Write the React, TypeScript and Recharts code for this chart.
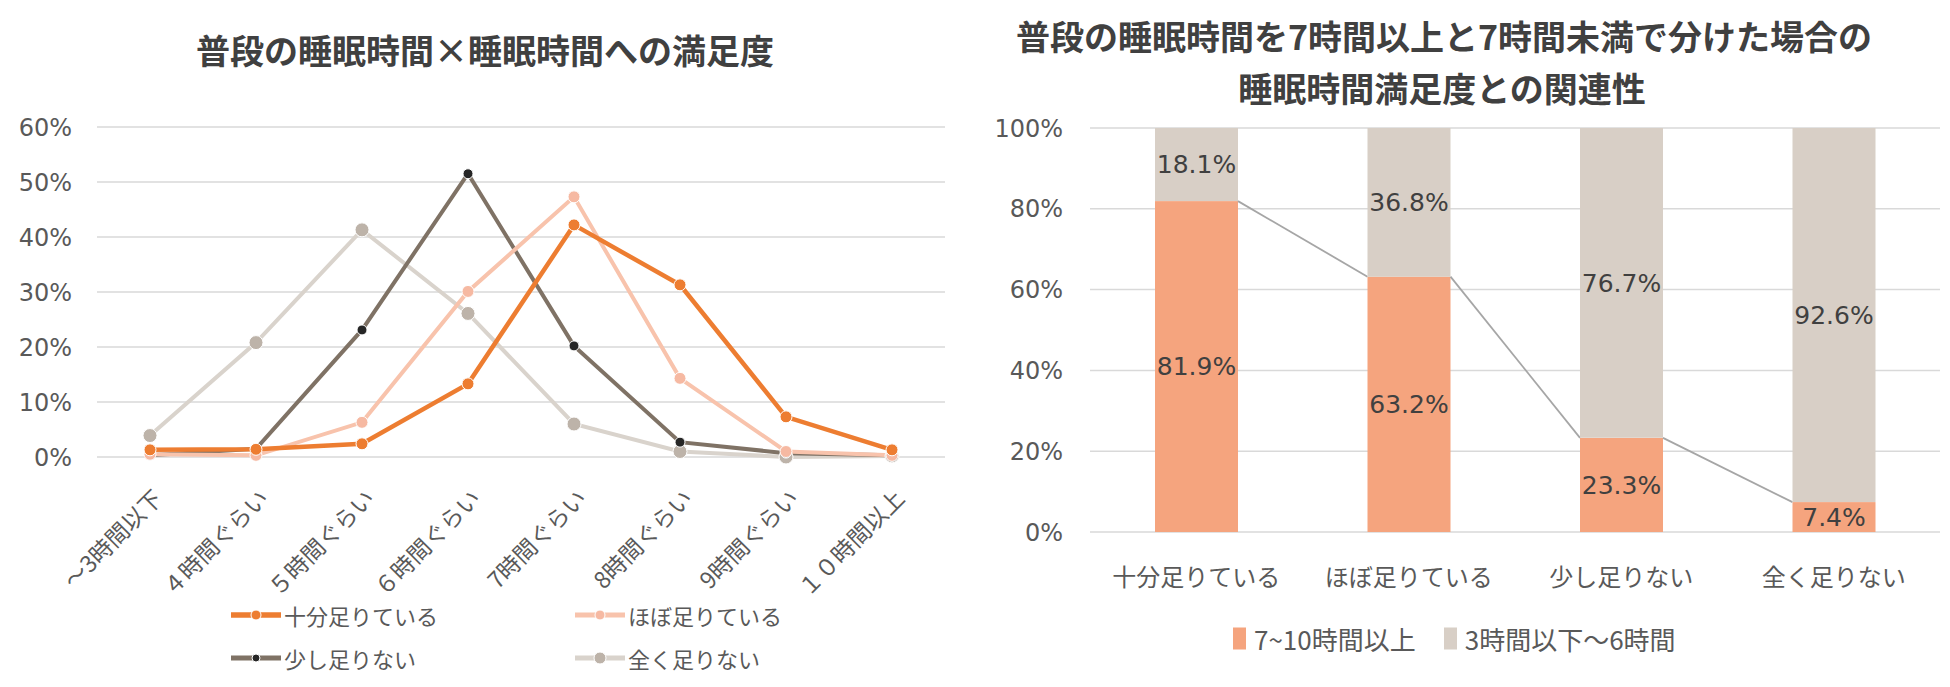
import {
  LineChart,
  Line,
  BarChart,
  Bar,
  XAxis,
  YAxis,
  CartesianGrid,
  LabelList,
} from 'recharts';

// left chart: usual sleep time x satisfaction
const sleepHours = ['～3時間以下', '４時間ぐらい', '５時間ぐらい', '６時間ぐらい', '7時間ぐらい', '8時間ぐらい', '9時間ぐらい', '１０時間以上'];
const enough = [1.3, 1.4, 2.4, 13.3, 42.2, 31.3, 7.3, 1.3];
const mostlyEnough = [0.5, 0.3, 6.3, 30.1, 47.3, 14.3, 1.0, 0.3];
const slightlyShort = [0.3, 1.5, 23.1, 51.5, 20.2, 2.7, 0.7, 0.3];
const notEnough = [3.9, 20.8, 41.3, 26.1, 6.0, 1.0, 0.0, 0.2];
const leftTicks = [0, 10, 20, 30, 40, 50, 60];

// right chart: 7h+ vs under 7h by satisfaction
const satisfaction = ['十分足りている', 'ほぼ足りている', '少し足りない', '全く足りない'];
const over7 = [81.9, 63.2, 23.3, 7.4];
const under7 = [18.1, 36.8, 76.7, 92.6];
const rightTicks = [0, 20, 40, 60, 80, 100];

const lineSeries = [
  { key: 'notEnough', name: '全く足りない', line: '#D9D3CC', dot: '#BDB3A9', r: 7, width: 4 },
  { key: 'slightlyShort', name: '少し足りない', line: '#7F7265', dot: '#262626', r: 5, width: 4 },
  { key: 'mostlyEnough', name: 'ほぼ足りている', line: '#F8C3AC', dot: '#F6B9A2', r: 6, width: 4 },
  { key: 'enough', name: '十分足りている', line: '#ED7D31', dot: '#ED7D31', r: 6, width: 4.5 },
];

const lineData = sleepHours.map((h, i) => ({
  h,
  enough: enough[i],
  mostlyEnough: mostlyEnough[i],
  slightlyShort: slightlyShort[i],
  notEnough: notEnough[i],
}));

const barData = satisfaction.map((s, i) => ({ s, over7: over7[i], under7: under7[i] }));

const NUM_FONT = "'DejaVu Sans', 'Noto Sans CJK JP', sans-serif";
const JP_FONT = "'Noto Sans CJK JP', sans-serif";
const AXIS_TEXT = '#595959';

function AngledTick(props: any) {
  const { x, y, payload } = props;
  const px = x + 14;
  const py = y + 43;
  return (
    <text
      x={px}
      y={py}
      transform={`rotate(-45 ${px} ${py})`}
      textAnchor="end"
      fontSize={23}
      fontFamily={JP_FONT}
      fill={AXIS_TEXT}
    >
      {payload.value}
    </text>
  );
}

function CategoryTick(props: any) {
  const { x, y, payload } = props;
  return (
    <text x={x} y={y + 54} textAnchor="middle" fontSize={24} fontFamily={JP_FONT} fill={AXIS_TEXT}>
      {payload.value}
    </text>
  );
}

// orange bar that also draws the Excel-style series line back to the previous bar
const barTops: { x: number; y: number; w: number }[] = [];
function SeriesLineBar(props: any) {
  const { x, y, width, height, fill, index } = props;
  barTops[index] = { x, y, w: width };
  const prev = index > 0 ? barTops[index - 1] : undefined;
  return (
    <g>
      <rect x={x} y={y} width={width} height={height} fill={fill} />
      {prev && (
        <line x1={prev.x + prev.w} y1={prev.y} x2={x} y2={y} stroke="#A6A6A6" strokeWidth={1.8} />
      )}
    </g>
  );
}

function LegendLine({ line, dot, r, width }: { line: string; dot: string; r: number; width: number }) {
  return (
    <svg width={50} height={20} style={{ display: 'block' }}>
      <line x1={0} y1={10} x2={50} y2={10} stroke={line} strokeWidth={width + 1} />
      <circle cx={25} cy={10} r={r} fill={dot} stroke="#fff" strokeWidth={1} />
    </svg>
  );
}

const legendSlots = [
  { key: 'enough', left: 231, top: 615 },
  { key: 'mostlyEnough', left: 575, top: 615 },
  { key: 'slightlyShort', left: 231, top: 658 },
  { key: 'notEnough', left: 575, top: 658 },
];

export default function App() {
  const titleStyle: React.CSSProperties = {
    position: 'absolute',
    fontFamily: JP_FONT,
    fontWeight: 700,
    fontSize: 34,
    color: '#404040',
    whiteSpace: 'nowrap',
    transform: 'translate(-50%, -50%)',
    lineHeight: 1,
  };

  return (
    <div style={{ position: 'absolute', left: 0, top: 0, width: 1950, height: 687, background: '#fff' }}>
      <div style={{ ...titleStyle, left: 485, top: 50 }}>普段の睡眠時間×睡眠時間への満足度</div>
      <div style={{ ...titleStyle, left: 1444, top: 36 }}>普段の睡眠時間を7時間以上と7時間未満で分けた場合の</div>
      <div style={{ ...titleStyle, left: 1442, top: 88 }}>睡眠時間満足度との関連性</div>

      <div style={{ position: 'absolute', left: 0, top: 0 }}>
        <LineChart width={980} height={687} data={lineData} margin={{ top: 127, right: 35, left: 17, bottom: 0 }}>
          <CartesianGrid vertical={false} stroke="#D9D9D9" strokeWidth={1.5} />
          <XAxis
            dataKey="h"
            padding={{ left: 53, right: 53 }}
            axisLine={false}
            tickLine={false}
            tickSize={0}
            tickMargin={0}
            height={230}
            interval={0}
            tick={<AngledTick />}
          />
          <YAxis
            domain={[0, 60]}
            ticks={leftTicks}
            width={80}
            axisLine={false}
            tickLine={false}
            tickSize={0}
            tickMargin={25}
            tickFormatter={(v: number) => `${v}%`}
            tick={{ fill: AXIS_TEXT, fontSize: 24, fontFamily: NUM_FONT }}
          />
          {lineSeries.map(s => (
            <Line
              key={s.key}
              dataKey={s.key}
              name={s.name}
              type="linear"
              stroke={s.line}
              strokeWidth={s.width}
              dot={{ r: s.r, fill: s.dot, stroke: '#fff', strokeWidth: 1 }}
              activeDot={false}
              isAnimationActive={false}
            />
          ))}
        </LineChart>
      </div>

      {legendSlots.map(slot => {
        const s = lineSeries.find(l => l.key === slot.key)!;
        return (
          <div
            key={slot.key}
            style={{
              position: 'absolute',
              left: slot.left,
              top: slot.top,
              transform: 'translateY(-50%)',
              display: 'flex',
              alignItems: 'center',
              gap: 3,
              fontFamily: JP_FONT,
              fontSize: 22,
              color: AXIS_TEXT,
              whiteSpace: 'nowrap',
            }}
          >
            <LegendLine line={s.line} dot={s.dot} r={s.r - 1} width={s.width} />
            <span>{s.name}</span>
          </div>
        );
      })}

      <div style={{ position: 'absolute', left: 980, top: 0 }}>
        <BarChart width={970} height={687} data={barData} margin={{ top: 128, right: 10, left: 30, bottom: 0 }}>
          <CartesianGrid vertical={false} stroke="#D9D9D9" strokeWidth={1.5} />
          <XAxis
            dataKey="s"
            axisLine={false}
            tickLine={false}
            tickSize={0}
            tickMargin={0}
            height={155}
            interval={0}
            tick={<CategoryTick />}
          />
          <YAxis
            domain={[0, 100]}
            ticks={rightTicks}
            width={80}
            axisLine={false}
            tickLine={false}
            tickSize={0}
            tickMargin={27}
            tickFormatter={(v: number) => `${v}%`}
            tick={{ fill: AXIS_TEXT, fontSize: 24, fontFamily: NUM_FONT }}
          />
          <Bar dataKey="over7" stackId="a" fill="#F5A47E" barSize={83} shape={<SeriesLineBar />} isAnimationActive={false}>
            <LabelList
              dataKey="over7"
              position="center"
              formatter={(v: number) => `${v}%`}
              fill="#404040"
              fontSize={25}
              fontFamily={NUM_FONT}
            />
          </Bar>
          <Bar dataKey="under7" stackId="a" fill="#D8CFC6" barSize={83} isAnimationActive={false}>
            <LabelList
              dataKey="under7"
              position="center"
              formatter={(v: number) => `${v}%`}
              fill="#404040"
              fontSize={25}
              fontFamily={NUM_FONT}
            />
          </Bar>
        </BarChart>
      </div>

      <div
        style={{
          position: 'absolute',
          left: 1233,
          top: 638,
          transform: 'translateY(-50%)',
          display: 'flex',
          alignItems: 'center',
          fontFamily: JP_FONT,
          fontSize: 26,
          color: AXIS_TEXT,
          whiteSpace: 'nowrap',
        }}
      >
        <span style={{ width: 13, height: 22, background: '#F5A47E', marginRight: 8 }} />
        <span style={{ marginRight: 28 }}>7~10時間以上</span>
        <span style={{ width: 13, height: 22, background: '#D8CFC6', marginRight: 8 }} />
        <span>3時間以下～6時間</span>
      </div>
    </div>
  );
}
